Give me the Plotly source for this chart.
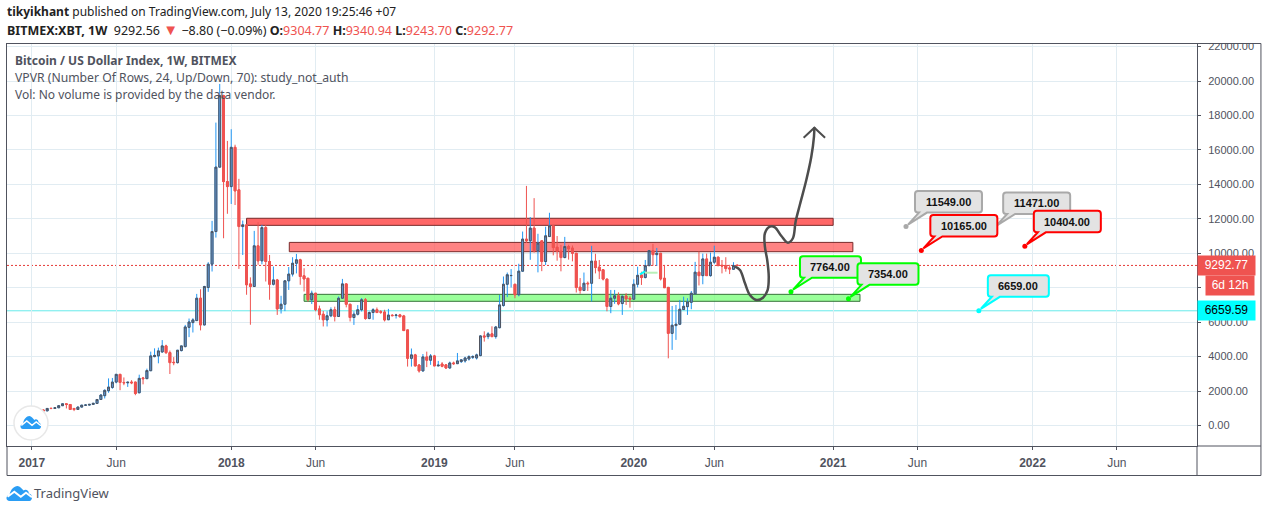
import numpy as np
import pandas as pd
import plotly.graph_objects as go

# weekly bars, BITMEX:XBT
opens = [
    1000, 910, 830, 900, 850, 1000, 990, 1030, 1150, 1260,
    1220, 990, 930, 1070, 1180, 1185, 1225, 1280, 1510, 1730,
    2020, 2210, 2520, 2970, 2500, 2480, 2520, 2520, 1900, 2760,
    2720, 3180, 4000, 4040, 4270, 4620, 4230, 3670, 3650, 4350,
    4580, 5700, 5975, 6090, 7390, 5840, 8010, 9365, 11260, 15000,
    19150, 14160, 13870, 16150, 13680, 11550, 11650, 8220, 8070, 10430,
    9560, 11490, 9520, 8200, 8450, 6770, 7040, 8400, 8790, 9420,
    9620, 8690, 8550, 7300, 7680, 6770, 6460, 6130, 6370, 6720,
    6330, 7390, 8220, 7040, 6270, 6460, 6720, 7300, 6210, 6560,
    6720, 6600, 6590, 6140, 6400, 6385, 6420, 6360, 5550, 3900,
    4100, 3510, 3170, 3980, 3790, 4040, 3460, 3570, 3520, 3340,
    3630, 3590, 3710, 3750, 3860, 3960, 3920, 4060, 5200, 5160,
    5320, 5160, 5680, 6970, 8200, 8700, 8200, 7590, 8960, 10820,
    10720, 11460, 10140, 10720, 9520, 10970, 11590, 10350, 10120, 9750,
    10390, 10300, 10000, 8030, 7840, 8260, 8260, 9540, 9190, 9040,
    8500, 6910, 7390, 7530, 7080, 7520, 7390, 7330, 8200, 8740,
    8590, 9280, 10150, 9920, 10000, 8550, 8020, 5350, 5800, 5880,
    6730, 6900, 7150, 7640, 8900, 8700, 9670, 8700, 9480, 9770,
    9300, 9280, 9150, 9070, 9304.77,
]
highs = [
    1090, 930, 910, 930, 1000, 1020, 1060, 1160, 1270, 1280,
    1230, 1000, 1090, 1190, 1210, 1240, 1300, 1530, 1800, 2100,
    2735, 2760, 2970, 2980, 2790, 2540, 2630, 2540, 2950, 2820,
    3300, 4290, 4480, 4520, 4960, 4690, 4350, 3970, 4370, 4620,
    5840, 6210, 6230, 7640, 7910, 8110, 9480, 11880, 17585, 19830,
    19200, 16520, 17200, 16300, 14320, 11900, 11650, 8600, 11300, 11800,
    11650, 11650, 9900, 9230, 8510, 7530, 8400, 9200, 9770, 9960,
    9680, 9130, 8550, 7830, 7680, 6960, 6650, 6630, 6860, 6900,
    7490, 8510, 8260, 7060, 6630, 6990, 7400, 7400, 6620, 6810,
    6850, 6700, 6720, 6770, 6460, 6480, 6480, 6420, 5560, 4470,
    4160, 3570, 4150, 4290, 4150, 4100, 3750, 3680, 3570, 3710,
    3710, 4210, 3860, 3990, 4080, 4080, 4170, 5240, 5470, 5420,
    5760, 5780, 7580, 8650, 8880, 9080, 8200, 9390, 11260, 13910,
    12100, 13200, 11130, 10720, 11540, 12350, 11650, 11000, 10480, 10950,
    10490, 10450, 10010, 8560, 8880, 8360, 10430, 9970, 9610, 9080,
    8520, 7870, 7870, 7730, 7560, 7680, 7520, 8490, 9220, 8930,
    9610, 10190, 10540, 10310, 10000, 9320, 8030, 6940, 7000, 7290,
    7480, 7390, 7810, 9500, 10100, 9980, 9980, 10040, 10440, 9810,
    9610, 9770, 9330, 9480, 9340.94,
]
lows = [
    860, 800, 820, 840, 845, 960, 970, 1020, 1140, 990,
    930, 835, 920, 1050, 1160, 1170, 1210, 1270, 1480, 1570,
    1900, 2130, 2450, 2050, 2340, 2240, 2400, 1760, 1880, 2390,
    2700, 3170, 3960, 3610, 4220, 4150, 2990, 3500, 3600, 4300,
    4540, 5130, 5400, 6080, 5520, 5810, 7760, 8940, 10910, 15000,
    10870, 12290, 12860, 12800, 9090, 9900, 7590, 5850, 8040, 9330,
    9360, 8360, 7300, 8130, 6420, 6500, 6640, 7870, 8650, 8830,
    8170, 7780, 7200, 7050, 6630, 6140, 5750, 5750, 6290, 6040,
    6330, 7390, 6860, 6040, 5840, 6390, 6620, 6140, 6170, 6140,
    6520, 6480, 6040, 6130, 6340, 6210, 6260, 5490, 3420, 3420,
    3430, 3070, 3130, 3390, 3520, 3460, 3450, 3380, 3280, 3300,
    3520, 3590, 3630, 3650, 3770, 3860, 3830, 4020, 4870, 5010,
    5130, 5040, 5640, 6900, 7450, 8010, 7390, 7500, 8930, 10600,
    9620, 10040, 8890, 8960, 9320, 10940, 9880, 9570, 8950, 9710,
    9630, 9530, 7720, 7650, 7800, 7810, 7200, 8830, 8500, 8420,
    6630, 6520, 7060, 6980, 6420, 7000, 6840, 7320, 8020, 8160,
    8540, 9260, 9280, 9260, 8420, 8000, 3900, 4390, 4970, 5830,
    6710, 6420, 6750, 7640, 8130, 8200, 8700, 8640, 9380, 9280,
    8830, 8930, 8790, 9030, 9243.70,
]
closes = [
    910, 830, 900, 850, 990, 985, 1030, 1150, 1260, 1220,
    930, 930, 1070, 1180, 1185, 1225, 1285, 1510, 1770, 2040,
    2230, 2520, 2970, 2500, 2480, 2510, 2480, 1860, 2735, 2720,
    3190, 4040, 4070, 4330, 4620, 4230, 3650, 3650, 4370, 4620,
    5720, 6010, 6130, 7390, 5840, 8070, 9365, 11260, 15000, 19150,
    14160, 13870, 16150, 13620, 11550, 11650, 8170, 8070, 10430, 9560,
    11490, 9520, 8200, 8450, 6770, 7040, 8400, 8790, 9420, 9620,
    8650, 8510, 7300, 7680, 6720, 6430, 6140, 6370, 6720, 6330,
    7390, 8220, 7040, 6270, 6460, 6720, 7300, 6210, 6560, 6720,
    6560, 6580, 6130, 6410, 6380, 6410, 6320, 5510, 3900, 4100,
    3460, 3170, 3980, 3790, 4040, 3460, 3500, 3440, 3340, 3630,
    3590, 3750, 3810, 3920, 4000, 4000, 4100, 5200, 5140, 5320,
    5160, 5720, 7000, 8200, 8750, 8710, 7590, 8960, 10820, 10720,
    11460, 10140, 10590, 9520, 11010, 11590, 10330, 10120, 9750, 10390,
    10260, 10000, 8010, 7840, 8260, 8230, 9540, 9170, 8980, 8500,
    6910, 7390, 7530, 7060, 7500, 7350, 7330, 8200, 8720, 8590,
    9280, 10150, 9920, 10000, 8510, 8000, 5350, 5820, 5880, 6750,
    6920, 7170, 7680, 8900, 8700, 9670, 8700, 9480, 9770, 9280,
    9260, 9110, 9090, 9290, 9292.77,
]

tick_dates = ['2017-01-02', '2017-06-05', '2018-01-01', '2018-06-04', '2019-01-07', '2019-06-03',
              '2020-01-06', '2020-06-01', '2021-01-04', '2021-06-07', '2022-01-03', '2022-06-06']
tick_names = ['<b>2017</b>', 'Jun', '<b>2018</b>', 'Jun', '<b>2019</b>', 'Jun',
              '<b>2020</b>', 'Jun', '<b>2021</b>', 'Jun', '<b>2022</b>', 'Jun']

# right scale, the 8000 label sits behind the countdown tag
price_ticks = [0, 2000, 4000, 6000, 8000, 10000, 12000, 14000, 16000, 18000, 20000, 22000]
price_names = ['0.00', '2000.00', '4000.00', '6000.00', '', '10000.00', '12000.00', '14000.00',
               '16000.00', '18000.00', '20000.00', '22000.00']

# drawn zones
zone_start = ['2018-01-29', '2018-04-17', '2018-05-14']
zone_end = ['2021-01-04', '2021-02-09', '2021-02-22']
zone_low = [11620, 10090, 7210]
zone_high = [12030, 10630, 7615]
zone_fill = ['rgba(255,70,70,0.82)', 'rgba(255,90,90,0.75)', 'rgba(120,255,120,0.75)']
zone_line = ['#7a2a2a', '#7a2a2a', '#38743a']

# hand drawn path, in weeks since the first bar
stroke_week = [183.4, 184.7, 186, 187.3, 189, 190.7, 191.9, 192.2, 191.8, 191.2, 191.2,
               192.5, 193.8, 195.5, 197.2, 198.5, 199.2, 200.3, 202, 203.3, 204, 204.1]
stroke_val = [9220, 9030, 8255, 7575, 7285, 7420, 7865, 8640, 9610, 10380, 11160,
              11540, 11505, 11000, 10610, 10870, 11830, 12800, 14250, 15600, 16770, 17310]
head_week = [201.3, 204.1, 206.9]
head_val = [16710, 17290, 16710]

# callouts, drawn in this order
call_dates = ['2021-05-17', '2021-10-25', '2021-06-14', '2021-12-20', '2020-10-19', '2021-02-01', '2021-09-27']
call_vals = [11549, 11471, 10165, 10404, 7764, 7354, 6659]
call_colors = ['#a9a9a9', '#a9a9a9', '#ff0000', '#ff0000', '#00ff00', '#00ff00', '#00ffff']

last_price = 9292.77
cyan_level = 6659.59

INK = '#50535e'
GRID = '#e1ecf2'
RED = '#ef5350'
BLUE = '#2196f3'
LOGO = '#2a9df4'
FONT = 'Noto Sans'


def px(x):
    return (x - 6.5) / 1191


def py(y):
    return 1 - (y - 44) / 402


weeks = pd.date_range('2017-01-02', periods=len(opens), freq='7D')
first_bar = pd.Timestamp('2017-01-02')


def week_dates(w):
    return [first_bar + pd.Timedelta(days=7 * v) for v in w]


fig = go.Figure()

# wicks, the bodies go on top so the border can differ from the wick colour
fig.add_trace(go.Candlestick(
    x=weeks, open=opens, high=highs, low=lows, close=closes,
    increasing=dict(line=dict(color=BLUE, width=1), fillcolor='#5a9fe6'),
    decreasing=dict(line=dict(color=RED, width=1), fillcolor=RED),
    whiskerwidth=0, showlegend=False, hoverinfo='skip'))
fig.add_trace(go.Candlestick(
    x=weeks, open=opens, close=closes,
    high=np.maximum(opens, closes), low=np.minimum(opens, closes),
    increasing=dict(line=dict(color=INK, width=1), fillcolor='#5a9fe6'),
    decreasing=dict(line=dict(color=RED, width=1), fillcolor=RED),
    whiskerwidth=0, showlegend=False, hoverinfo='skip'))

fig.add_trace(go.Scatter(x=week_dates([158.6, 159.9]), y=[8780, 8950], mode='lines',
                         line=dict(color='#00ffff', width=2), hoverinfo='skip', showlegend=False))
fig.add_trace(go.Scatter(x=week_dates([159.9, 163.2]), y=[8870, 8870], mode='lines',
                         line=dict(color='#b8f0b8', width=2), hoverinfo='skip', showlegend=False))
fig.add_trace(go.Scatter(x=week_dates(stroke_week), y=stroke_val, mode='lines',
                         line=dict(color='#4d4d4d', width=2.5, shape='spline'),
                         hoverinfo='skip', showlegend=False))
fig.add_trace(go.Scatter(x=week_dates(head_week), y=head_val, mode='lines',
                         line=dict(color='#4d4d4d', width=2), hoverinfo='skip', showlegend=False))
fig.add_trace(go.Scatter(x=call_dates, y=call_vals, mode='markers',
                         marker=dict(color=call_colors, size=5), hoverinfo='skip', showlegend=False))

shapes = []
for i in range(len(zone_start)):
    shapes.append(dict(type='rect', layer='between', xref='x', yref='y',
                       x0=zone_start[i], x1=zone_end[i], y0=zone_low[i], y1=zone_high[i],
                       fillcolor=zone_fill[i], line=dict(color=zone_line[i], width=1)))
shapes.append(dict(type='line', layer='between', xref='paper', yref='y', x0=0, x1=1,
                   y0=last_price, y1=last_price, line=dict(color='#e53935', width=1, dash='2px,2px')))
shapes.append(dict(type='line', layer='between', xref='paper', yref='y', x0=0, x1=1,
                   y0=cyan_level, y1=cyan_level, line=dict(color='#3fe3e3', width=0.8)))


def callout_path(w, h=21.5, left=9, bottom=14, r=3):
    right = left + w
    top = bottom + h
    return (f'M 2,2 L 21,{bottom} L {right - r},{bottom} Q {right},{bottom} {right},{bottom + r} '
            f'L {right},{top - r} Q {right},{top} {right - r},{top} L {left + r},{top} '
            f'Q {left},{top} {left},{top - r} L {left},{bottom + r} Q {left},{bottom} {left + r},{bottom} '
            f'L 13,{bottom} Z')


annotations = []
for d, v, c in zip(call_dates, call_vals, call_colors):
    w = 61 if v < 10000 else 67
    shapes.append(dict(type='path', layer='above', xref='x', yref='y',
                       xsizemode='pixel', ysizemode='pixel', xanchor=d, yanchor=v,
                       path=callout_path(w), fillcolor='#e3e3e3', line=dict(color=c, width=2)))
    annotations.append(dict(x=d, y=v, xref='x', yref='y', xshift=9 + w / 2, yshift=14 + 21.5 / 2,
                            text=f'<b>{v}.00</b>', showarrow=False,
                            font=dict(family='Liberation Sans', size=11, color='#111111')))


def seg(x0, y0, x1, y1):
    return dict(type='line', layer='above', xref='paper', yref='paper',
                x0=px(x0), y0=py(y0), x1=px(x1), y1=py(y1), line=dict(color=INK, width=1))


# hides the part of the 22000 label above the frame
shapes.append(dict(type='rect', layer='above', xref='paper', yref='paper', x0=px(1198), x1=px(1261),
                   y0=py(43), y1=py(30), fillcolor='white', line=dict(width=0)))
shapes += [seg(1197.5, 43.5, 1261.5, 43.5), seg(1261.5, 43.5, 1261.5, 475.5),
           seg(6.5, 475.5, 1261.5, 475.5), seg(6.5, 446, 6.5, 475.5),
           seg(1197.5, 446, 1197.5, 475.5), seg(1197.5, 446, 1261.5, 446)]


def cloud(x0, y0, w, h, line_w):
    def p(u, v):
        return f'{px(x0 + u * w):.5f},{py(y0 + v * h):.5f}'
    body = (f"M {p(.12, 1)} C {p(-.04, 1)} {p(-.04, .62)} {p(.12, .6)} C {p(.14, .25)} {p(.3, 0)} {p(.42, 0)} "
            f"C {p(.52, 0)} {p(.6, .2)} {p(.66, .3)} C {p(.72, .2)} {p(.86, .25)} {p(.86, .5)} "
            f"C {p(1.02, .52)} {p(1.02, 1)} {p(.88, 1)} Z")
    zig = f"M {p(.04, .72)} L {p(.3, .38)} L {p(.55, .72)} L {p(.75, .45)} L {p(.98, .75)}"
    return [dict(type='path', layer='above', xref='paper', yref='paper', path=body,
                 fillcolor=LOGO, line=dict(width=0)),
            dict(type='path', layer='above', xref='paper', yref='paper', path=zig,
                 line=dict(color='white', width=line_w))]


shapes.append(dict(type='circle', layer='above', xref='paper', yref='paper',
                   x0=px(13.5), x1=px(47.5), y0=py(440), y1=py(406),
                   fillcolor='white', line=dict(color='#e8e8e8', width=1.5)))
shapes += cloud(20, 416, 21, 13, 1.5)
shapes += cloud(6, 486, 26, 15, 2)


def label(x, y, text, size=12, color=INK, family=FONT):
    return dict(x=px(x), y=py(y), xref='paper', yref='paper', xanchor='left', yanchor='middle',
                text=text, showarrow=False, align='left', font=dict(family=family, size=size, color=color))


def red(s):
    return f'<span style="color:{RED}">{s}</span>'


annotations += [
    label(4, 12, '<b>tikyikhant</b> published on TradingView.com, July 13, 2020 19:25:46 +07', 12, '#222222'),
    label(4, 29, '<b>BITMEX:XBT, 1W</b>  9292.56 <span style="color:%s;font-size:15px">▼</span> −8.80 (−0.09%%) <b>O:</b>' % RED
          + red('9304.77') + ' <b>H:</b>' + red('9340.94') + ' <b>L:</b>' + red('9243.70')
          + ' <b>C:</b>' + red('9292.77'),
          12.5, '#222222'),
    label(13, 60, '<b>Bitcoin / US Dollar Index, 1W, BITMEX</b>', 12),
    label(13, 77, 'VPVR (Number Of Rows, 24, Up/Down, 70): study_not_auth', 12.2),
    label(13, 94, 'Vol: No volume is provided by the data vendor.', 12),
    label(32, 493, 'TradingView', 13),
]

# price tags on the right scale
tags = [(last_price, '9292.77', RED, 'white', 1197.5, 57), (cyan_level, '6659.59', '#00ffff', 'black', 1197.5, 57)]
for val, txt, bg, fg, left, w in tags:
    annotations.append(dict(x=px(left), y=val, xref='paper', yref='y', xanchor='left', yanchor='middle',
                            text=txt, showarrow=False, bgcolor=bg, width=w, height=18.5, borderpad=0,
                            font=dict(family='Liberation Sans', size=12, color=fg)))
annotations.append(dict(x=px(1206), y=py(285.3), xref='paper', yref='paper', xanchor='left', yanchor='middle',
                        text='6d 12h', showarrow=False, bgcolor=RED, width=48, height=18.5, borderpad=0,
                        font=dict(family='Liberation Sans', size=12, color='white')))

fig.update_layout(
    width=1268, height=512, autosize=False,
    margin=dict(l=6.5, r=70.5, t=44, b=66, pad=0),
    paper_bgcolor='white', plot_bgcolor='white',
    showlegend=False, shapes=shapes, annotations=annotations,
    font=dict(family=FONT, color=INK),
    xaxis=dict(type='date', range=['2016-11-17 14:00', '2022-10-30 08:00'],
               tickmode='array', tickvals=tick_dates, ticktext=tick_names,
               showgrid=True, gridcolor=GRID, gridwidth=1, zeroline=False,
               showline=True, linecolor=INK, linewidth=1, mirror=True,
               ticks='outside', ticklen=3, tickcolor=INK, ticklabelstandoff=3,
               tickfont=dict(family='Liberation Sans', size=12, color=INK),
               rangeslider=dict(visible=False)),
    yaxis=dict(side='right', range=[-1190, 22148],
               tickmode='array', tickvals=price_ticks, ticktext=price_names,
               showgrid=True, gridcolor=GRID, gridwidth=1, zeroline=False,
               showline=True, linecolor=INK, linewidth=1, mirror=True,
               ticks='outside', ticklen=3, tickcolor=INK, ticklabelstandoff=5,
               tickfont=dict(family='Liberation Sans', size=11, color=INK)),
)

fig.write_html("out.html", config=dict(displayModeBar=False), post_script="document.body.style.margin='0';")
